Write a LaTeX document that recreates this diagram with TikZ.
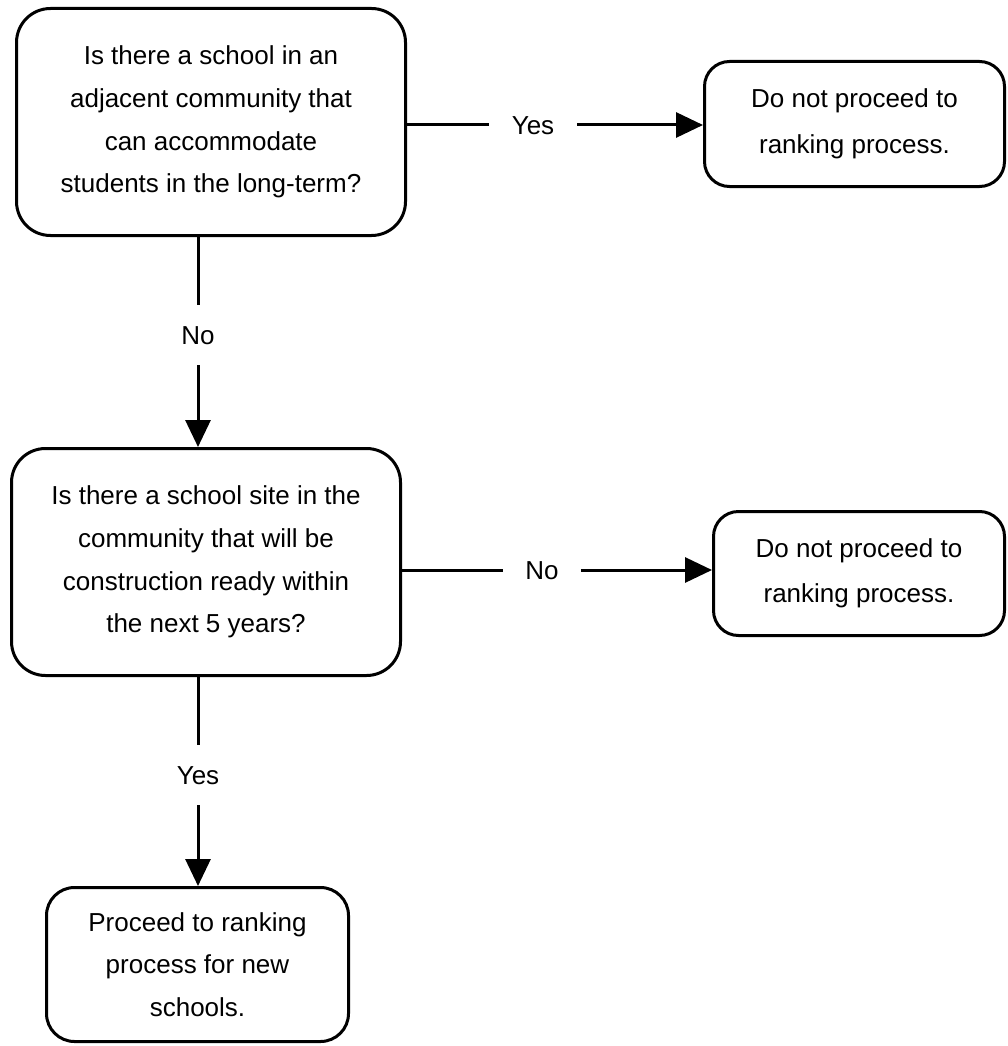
\documentclass[tikz,border=0pt]{standalone}
\usepackage{fontspec}
\setmainfont{Liberation Sans}
\usetikzlibrary{arrows.meta}
\begin{document}
\begin{tikzpicture}[x=1pt,y=-1pt,line join=round,
    bigbox/.style={draw,line width=3pt,rounded corners=34pt,align=center,inner sep=0pt,
      font=\fontsize{26}{42.6}\selectfont},
    smallbox/.style={draw,line width=3pt,rounded corners=25pt,align=center,inner sep=0pt,
      font=\fontsize{26}{45.5}\selectfont},
    answer/.style={inner xsep=23pt,inner ysep=20pt,text height=19pt,text depth=0pt,
      font=\fontsize{26}{30}\selectfont},
    flow/.style={line width=3pt,-{Triangle[length=27pt,width=25pt]}},
    plain/.style={line width=3pt}]
  \useasboundingbox (0,0) rectangle (1007,1046);
  % decision boxes
  \node[bigbox,minimum width=389pt,minimum height=227pt] (q1) at (211,122)
    {Is there a school in an\\adjacent community that\\can accommodate\\students in the long-term?};
  \node[bigbox,minimum width=389pt,minimum height=227pt] (q2) at (206,562)
    {Is there a school site in the\\community that will be\\construction ready within\\the next 5 years?};
  % outcome boxes
  \node[smallbox,minimum width=300pt,minimum height=125pt] (stop1) at (854.5,124)
    {Do not proceed to\\ranking process.};
  \node[smallbox,minimum width=291pt,minimum height=124pt] (stop2) at (859,573.5)
    {Do not proceed to\\ranking process.};
  \node[bigbox,rounded corners=28pt,minimum width=302pt,minimum height=154pt] (go) at (197.5,964.5)
    {Proceed to ranking\\process for new\\schools.};
  % answers
  \node[answer] (yes1) at (533,125) {Yes};
  \node[answer,inner xsep=22pt] (no2) at (542,570) {No};
  \node[answer,inner xsep=10pt,inner ysep=20.5pt] (no1) at (198,335) {No};
  \node[answer,inner xsep=10pt,inner ysep=20.5pt] (yes2) at (198,775) {Yes};
  % connectors
  \draw[plain] (q1.east |- yes1) -- (yes1);
  \draw[flow] (yes1) -- (yes1 -| stop1.west);
  \draw[plain] (q1.south -| no1) -- (no1);
  \draw[flow] (no1) -- (q2.north -| no1);
  \draw[plain] (q2.east |- no2) -- (no2);
  \draw[flow] (no2) -- (no2 -| stop2.west);
  \draw[plain] (q2.south -| yes2) -- (yes2);
  \draw[flow] (yes2) -- (go.north -| yes2);
\end{tikzpicture}
\end{document}
